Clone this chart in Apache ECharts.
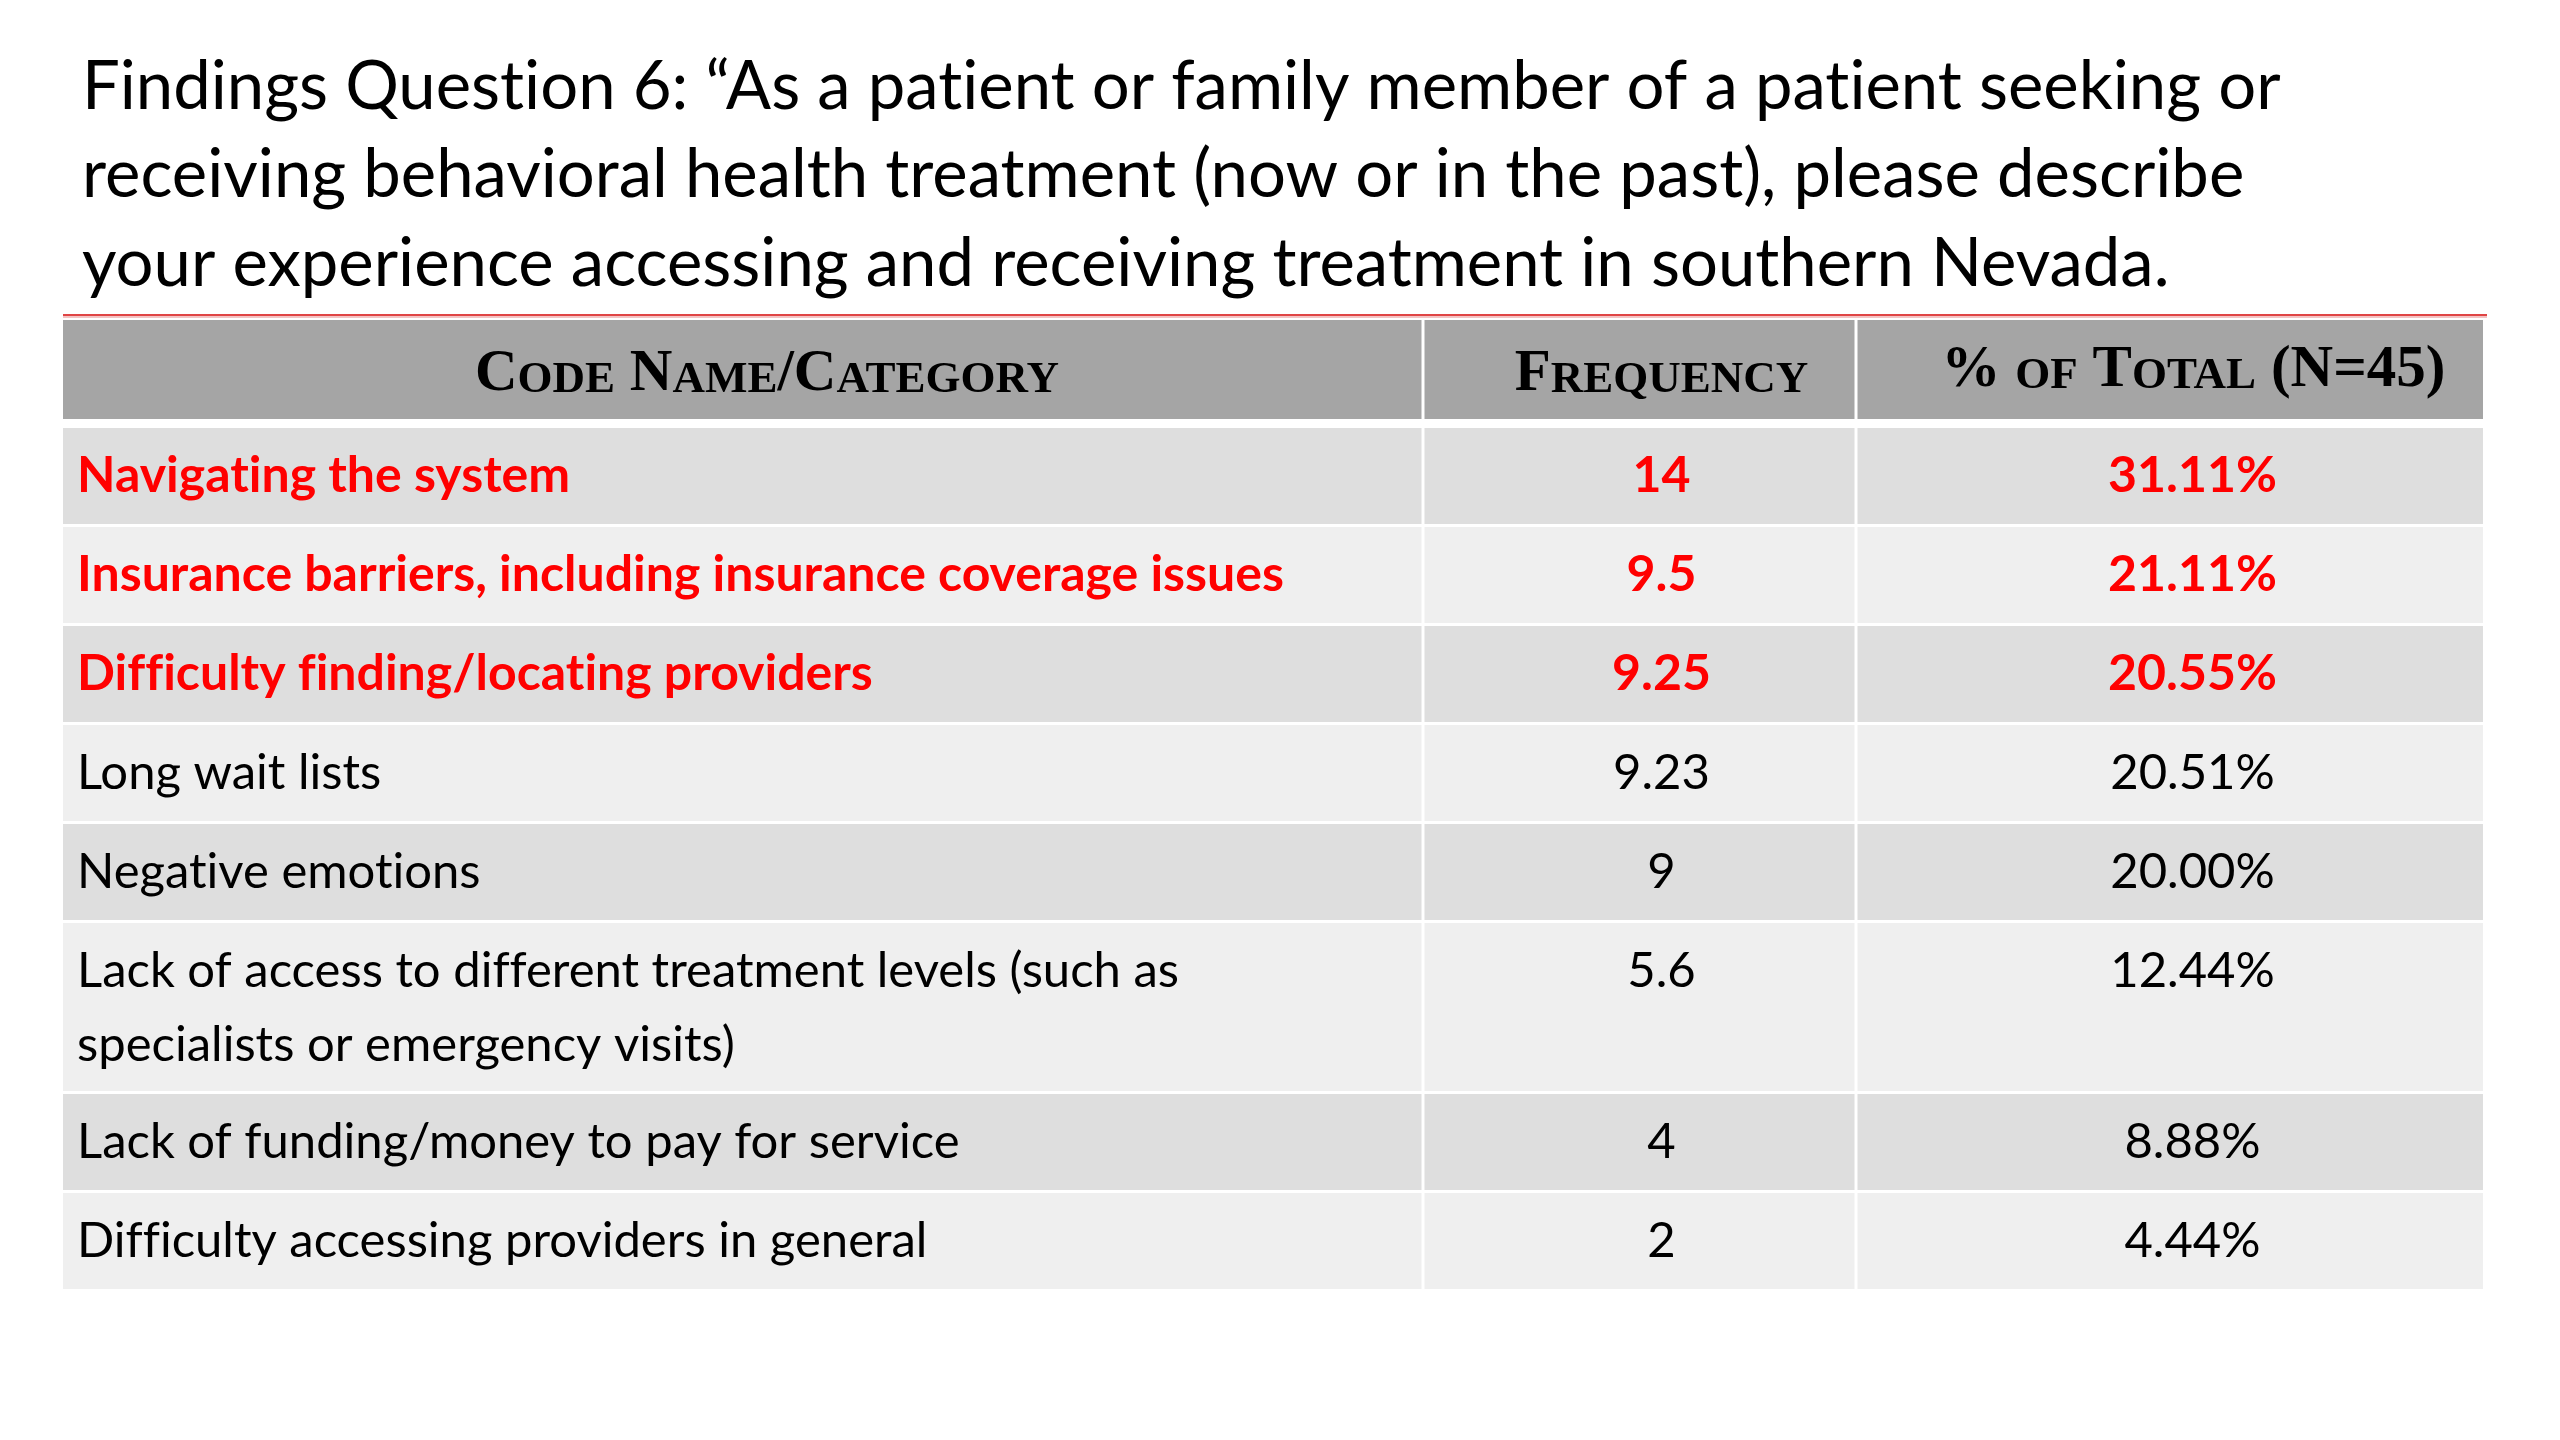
<!DOCTYPE html>
<html>
<head>
<meta charset="utf-8">
<title>Findings Question 6</title>
<script src="https://cdn.jsdelivr.net/npm/echarts@6/dist/echarts.min.js"></script>
<style>
  html, body { margin: 0; padding: 0; background: #ffffff; }
  #chart { width: 2560px; height: 1440px; }
</style>
</head>
<body>
<div id="chart"></div>
<script>
// table content
var titleLines = [
  'Findings Question 6: \u201cAs a patient or family member of a patient seeking or',
  'receiving behavioral health treatment (now or in the past), please describe',
  'your experience accessing and receiving treatment in southern Nevada.'
];
var headers = ['Code Name/Category', 'Frequency', '% of Total (N=45)'];
var categories = [
  'Navigating the system',
  'Insurance barriers, including insurance coverage issues',
  'Difficulty finding/locating providers',
  'Long wait lists',
  'Negative emotions',
  'Lack of access to different treatment levels (such as\nspecialists or emergency visits)',
  'Lack of funding/money to pay for service',
  'Difficulty accessing providers in general'
];
var frequency = [14, 9.5, 9.25, 9.23, 9, 5.6, 4, 2];
var percentOfTotal = [31.11, 21.11, 20.55, 20.51, 20.00, 12.44, 8.88, 4.44];
var highlightCount = 3;

// layout (pixels of the 2560x1440 slide)
var TABLE_LEFT = 63, TABLE_RIGHT = 2483, TABLE_TOP = 320;
var colEdges = [0, 1360, 1793, 2420];
var HEADER_PITCH = 108, HEADER_H = 99;
var ROW_PITCH = 99, EXTRA_LINE = 72, ROW_GAP = 3, COL_GAP = 3;
var TEXT_MID = 48, LINE_H = 74;
var BODY_FONT = 'Lato';
var BODY_SIZE = 49, BOLD_SIZE = 50;

var HEADER_BG = '#a5a5a5', DARK = '#dedede', LIGHT = '#efefef', RED = '#ff0000';

var rowTops = [], rowHeights = [];
(function () {
  var y = HEADER_PITCH;
  categories.forEach(function (c) {
    var lines = c.split('\n').length;
    var h = ROW_PITCH + EXTRA_LINE * (lines - 1);
    rowTops.push(y);
    rowHeights.push(h);
    y += h;
  });
})();
var tableSpan = rowTops[rowTops.length - 1] + rowHeights[rowHeights.length - 1];

// keep Lato from joining f/t pairs into ligatures (the slide font has none)
function noLig(s) {
  return s.replace(/([ft])(?=[fitl])/g, '$1\u200C');
}

// small caps with rich text: lower case letters become smaller capitals
function smallCaps(str) {
  var out = '', buf = '', cur = null;
  for (var k = 0; k < str.length; k++) {
    var ch = str[k];
    var t = (ch >= 'a' && ch <= 'z') ? 's' : 'b';
    if (t !== cur && buf) { out += '{' + cur + '|' + buf + '}'; buf = ''; }
    cur = t;
    buf += ch.toUpperCase();
  }
  if (buf) out += '{' + cur + '|' + buf + '}';
  return out;
}

var headerRich = {
  b: { fontSize: 59, fontFamily: 'Liberation Serif', fontWeight: 'bold', color: '#ffffff', verticalAlign: 'bottom' },
  s: { fontSize: 45, fontFamily: 'Liberation Serif', fontWeight: 'bold', color: '#ffffff', verticalAlign: 'bottom', padding: [0, 0, 2, 0] }
};

function cellRects(api, top, h, fill) {
  var out = [];
  for (var c = 0; c < 3; c++) {
    var p0 = api.coord([colEdges[c], top]);
    var p1 = api.coord([colEdges[c + 1], top + h]);
    var x0 = p0[0] + (c > 0 ? COL_GAP / 2 : 0);
    var x1 = p1[0] - (c < 2 ? COL_GAP / 2 : 0);
    out.push({ type: 'rect', shape: { x: x0, y: p0[1], width: x1 - x0, height: p1[1] - p0[1] }, style: { fill: fill } });
  }
  return out;
}

function colCenter(api, c) {
  return (api.coord([colEdges[c], 0])[0] + api.coord([colEdges[c + 1], 0])[0]) / 2;
}

function renderHeader(params, api) {
  var children = cellRects(api, 0, HEADER_H, HEADER_BG);
  var yMid = api.coord([0, 55])[1];
  var offs = [24, 22, 24];
  for (var c = 0; c < 3; c++) {
    children.push({
      type: 'text',
      x: colCenter(api, c) + offs[c],
      y: yMid - (c === 2 ? 4 : 0),
      style: { text: smallCaps(headers[c]), rich: headerRich, align: 'center', verticalAlign: 'middle' }
    });
  }
  return { type: 'group', children: children };
}

function renderRow(params, api) {
  var i = api.value(0);
  var top = rowTops[i], h = rowHeights[i];
  var hl = i < highlightCount;
  var children = cellRects(api, top, h - ROW_GAP, i % 2 === 0 ? DARK : LIGHT);
  var yText = api.coord([0, top + TEXT_MID])[1] - LINE_H / 2;
  var base = {
    fontFamily: BODY_FONT, fontSize: hl ? BOLD_SIZE : BODY_SIZE, fontWeight: hl ? 'bold' : 'normal',
    fill: hl ? RED : '#000000', lineHeight: LINE_H, verticalAlign: 'top'
  };
  children.push({
    type: 'text', x: api.coord([colEdges[0], 0])[0] + 14, y: yText,
    style: Object.assign({ text: noLig(categories[i]), align: 'left' }, base)
  });
  children.push({
    type: 'text', x: colCenter(api, 1) + 22, y: yText,
    style: Object.assign({ text: String(frequency[i]), align: 'center' }, base)
  });
  children.push({
    type: 'text', x: colCenter(api, 2) + 23, y: yText,
    style: Object.assign({ text: percentOfTotal[i].toFixed(2) + '%', align: 'center' }, base)
  });
  return { type: 'group', children: children };
}

var chart = echarts.init(document.getElementById('chart'));
var option = {
  animation: false,
  backgroundColor: '#ffffff',
  title: {
    text: noLig(titleLines.join('\n')),
    left: 82,
    top: 43,
    padding: 0,
    textStyle: { fontFamily: 'Lato', fontWeight: 'normal', fontSize: 67, lineHeight: 88.5, color: '#000000' }
  },
  graphic: [
    { type: 'line', shape: { x1: 63, y1: 315, x2: 2487, y2: 315 }, style: { stroke: '#e04545', lineWidth: 2 } },
    { type: 'line', shape: { x1: 63, y1: 317, x2: 2487, y2: 317 }, style: { stroke: '#f3c4c4', lineWidth: 2 } }
  ],
  grid: { left: TABLE_LEFT, width: TABLE_RIGHT - TABLE_LEFT, top: TABLE_TOP, height: tableSpan },
  xAxis: { type: 'value', min: 0, max: colEdges[3], show: false },
  yAxis: { type: 'value', min: 0, max: tableSpan, inverse: true, show: false },
  series: [
    { type: 'custom', name: 'header', renderItem: renderHeader, data: [[0]], silent: true },
    { type: 'custom', name: 'rows', renderItem: renderRow, data: categories.map(function (c, i) { return [i]; }), silent: true }
  ]
};
chart.setOption(option);
</script>
</body>
</html>
